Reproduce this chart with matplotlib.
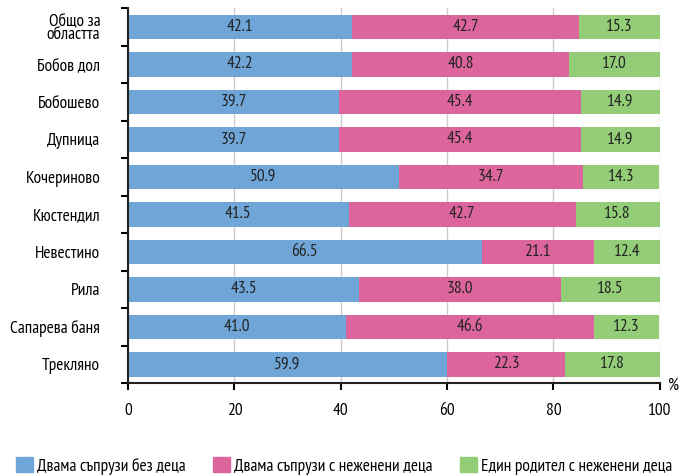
import matplotlib
matplotlib.use("Agg")
import matplotlib.pyplot as plt
import numpy as np
from matplotlib.patches import Patch

plt.rcParams['font.family'] = ['PT Sans Narrow', 'DejaVu Sans']

categories = ["Общо за\nобластта", "Бобов дол", "Бобошево", "Дупница", "Кочериново",
              "Кюстендил", "Невестино", "Рила", "Сапарева баня", "Трекляно"]
no_children = [42.1, 42.2, 39.7, 39.7, 50.9, 41.5, 66.5, 43.5, 41.0, 59.9]
with_children = [42.7, 40.8, 45.4, 45.4, 34.7, 42.7, 21.1, 38.0, 46.6, 22.3]
single_parent = [15.3, 17.0, 14.9, 14.9, 14.3, 15.8, 12.4, 18.5, 12.3, 17.8]
series_names = ["Двама съпрузи без деца", "Двама съпрузи с неженени деца",
                "Един родител с неженени деца"]
colors = ["#6FA6D7", "#DB659C", "#93CD78"]

FS = 12.5

fig = plt.figure(figsize=(6.88, 4.76), dpi=100)
ax = fig.add_axes([0.186, 0.195, 0.773, 0.788])

y = np.arange(len(categories))
left = np.zeros(len(categories))
for vals, c in zip([no_children, with_children, single_parent], colors):
    vals = np.array(vals)
    ax.barh(y, vals, left=left, height=0.65, color=c, zorder=2)
    for yi, l, v in zip(y, left, vals):
        ax.text(l + v / 2, yi, f"{v:.1f}", ha="center", va="center",
                fontsize=FS, color="#222222", zorder=3)
    left = left + vals

ax.set_xlim(0, 100)
ax.set_ylim(len(categories) - 0.5, -0.5)
ax.set_xticks([0, 20, 40, 60, 80, 100])
ax.tick_params(axis="x", labelsize=FS, length=5, width=1.5, direction="out", pad=9)
ax.set_yticks(y)
ax.set_yticklabels(categories, fontsize=FS, linespacing=0.85)
ax.tick_params(axis="y", length=0, pad=20)
ax.set_yticks(np.arange(-0.5, len(categories), 1), minor=True)
ax.tick_params(axis="y", which="minor", length=5, width=1.5)
ax.grid(axis="x", color="#cccccc", linewidth=1, zorder=0)
for s in ["top", "right"]:
    ax.spines[s].set_visible(False)
for s in ["left", "bottom"]:
    ax.spines[s].set_linewidth(1.5)
    ax.spines[s].set_color("#222222")
for lbl in ax.get_yticklabels():
    lbl.set_multialignment("right")

fig.text(0.979, 0.19, "%", fontsize=FS, ha="center", va="center")

handles = [Patch(color=c) for c in colors]
fig.legend(handles, series_names, loc="lower center", bbox_to_anchor=(0.5, -0.03),
           ncol=3, frameon=False, fontsize=FS, handlelength=1.0, handleheight=1.0,
           handletextpad=0.2, columnspacing=1.6)

fig.savefig("out.png", dpi=100)
